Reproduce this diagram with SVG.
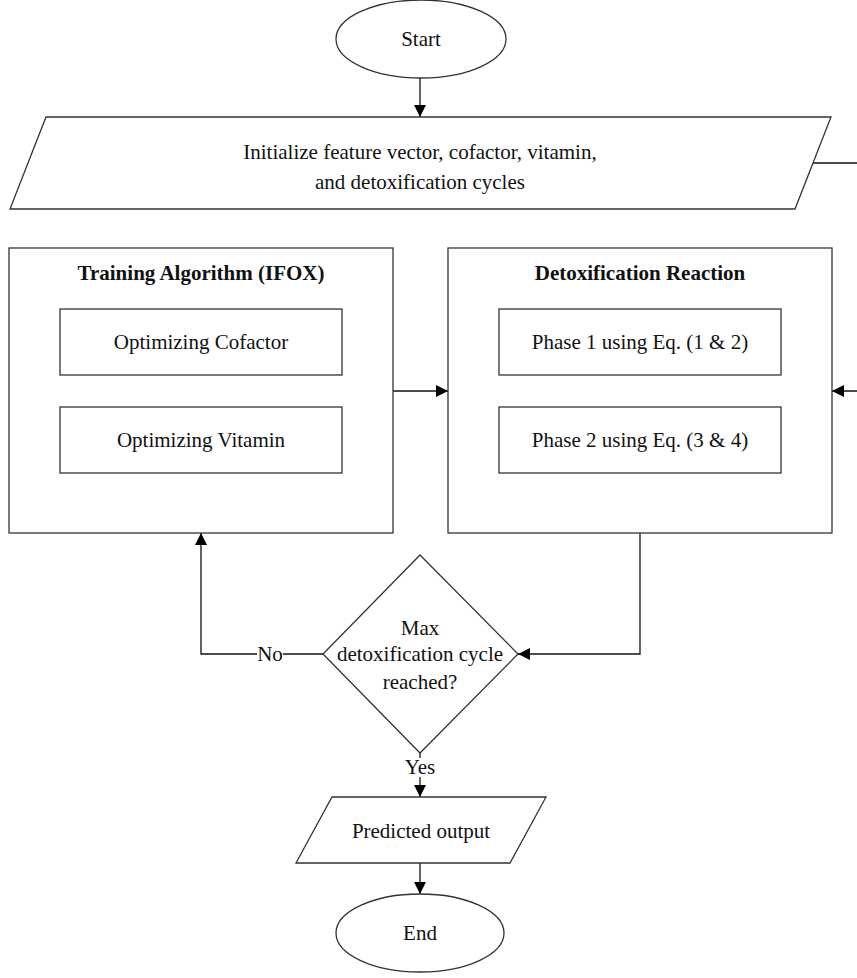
<svg xmlns="http://www.w3.org/2000/svg" width="857" height="978" viewBox="0 0 857 978">
<style>
.shape{fill:#fff;stroke:#333;stroke-width:1.3}
.line{fill:none;stroke:#111;stroke-width:1.3}
text{font-family:"Liberation Serif","Times New Roman",serif;font-size:21px;fill:#111;text-anchor:middle}
.bold{font-weight:bold}
.lbl{fill:#fff;stroke:none}
</style>
<defs>
<marker id="arr" viewBox="0 0 12 12" refX="12" refY="6" markerWidth="12" markerHeight="12" markerUnits="userSpaceOnUse" orient="auto">
<path d="M0,0 L12,6 L0,12 Z" fill="#000"/>
</marker>
</defs>
<rect width="857" height="978" fill="#fff"/>

<g id="connectors">
<line class="line" x1="420" y1="78" x2="420" y2="117" marker-end="url(#arr)"/>
<path class="line" d="M813,163 L870,163 M870,391 L832,391" marker-end="url(#arr)"/>
<line class="line" x1="393" y1="391" x2="448" y2="391" marker-end="url(#arr)"/>
<path class="line" d="M640,533 L640,654 L518,654" marker-end="url(#arr)"/>
<path class="line" d="M323,654 L201,654 L201,533" marker-end="url(#arr)"/>
<line class="line" x1="420" y1="753" x2="420" y2="797" marker-end="url(#arr)"/>
<line class="line" x1="420" y1="863" x2="420" y2="894" marker-end="url(#arr)"/>
<rect class="lbl" x="257" y="645" width="26" height="18"/>
<text x="270" y="661">No</text>
<rect class="lbl" x="404" y="758" width="32" height="19"/>
<text x="420" y="774">Yes</text>
</g>

<g id="start">
<ellipse class="shape" cx="421" cy="39" rx="85" ry="39"/>
<text x="421" y="46">Start</text>
</g>

<g id="init">
<polygon class="shape" points="46,117 831,117 795,209 10,209"/>
<text x="420" y="159">Initialize feature vector, cofactor, vitamin,</text>
<text x="420" y="189">and detoxification cycles</text>
</g>

<g id="training">
<rect class="shape" x="9" y="248" width="384" height="285"/>
<text class="bold" x="201" y="280">Training Algorithm (IFOX)</text>
<rect class="shape" x="60" y="309" width="282" height="66"/>
<text x="201" y="349">Optimizing Cofactor</text>
<rect class="shape" x="60" y="407" width="282" height="66"/>
<text x="201" y="447">Optimizing Vitamin</text>
</g>

<g id="detox">
<rect class="shape" x="448" y="248" width="384" height="285"/>
<text class="bold" x="640" y="280">Detoxification Reaction</text>
<rect class="shape" x="499" y="309" width="282" height="66"/>
<text x="640" y="349">Phase 1 using Eq. (1 &amp; 2)</text>
<rect class="shape" x="499" y="407" width="282" height="66"/>
<text x="640" y="447">Phase 2 using Eq. (3 &amp; 4)</text>
</g>

<g id="decision">
<polygon class="shape" points="420,555 518,654 420,753 323,654"/>
<text x="420" y="635">Max</text>
<text x="420" y="661">detoxification cycle</text>
<text x="420" y="689">reached?</text>
</g>

<g id="predicted">
<polygon class="shape" points="332,797 546,797 510,863 296,863"/>
<text x="421" y="838">Predicted output</text>
</g>

<g id="end">
<ellipse class="shape" cx="420" cy="933" rx="84" ry="39"/>
<text x="420" y="940">End</text>
</g>
</svg>
